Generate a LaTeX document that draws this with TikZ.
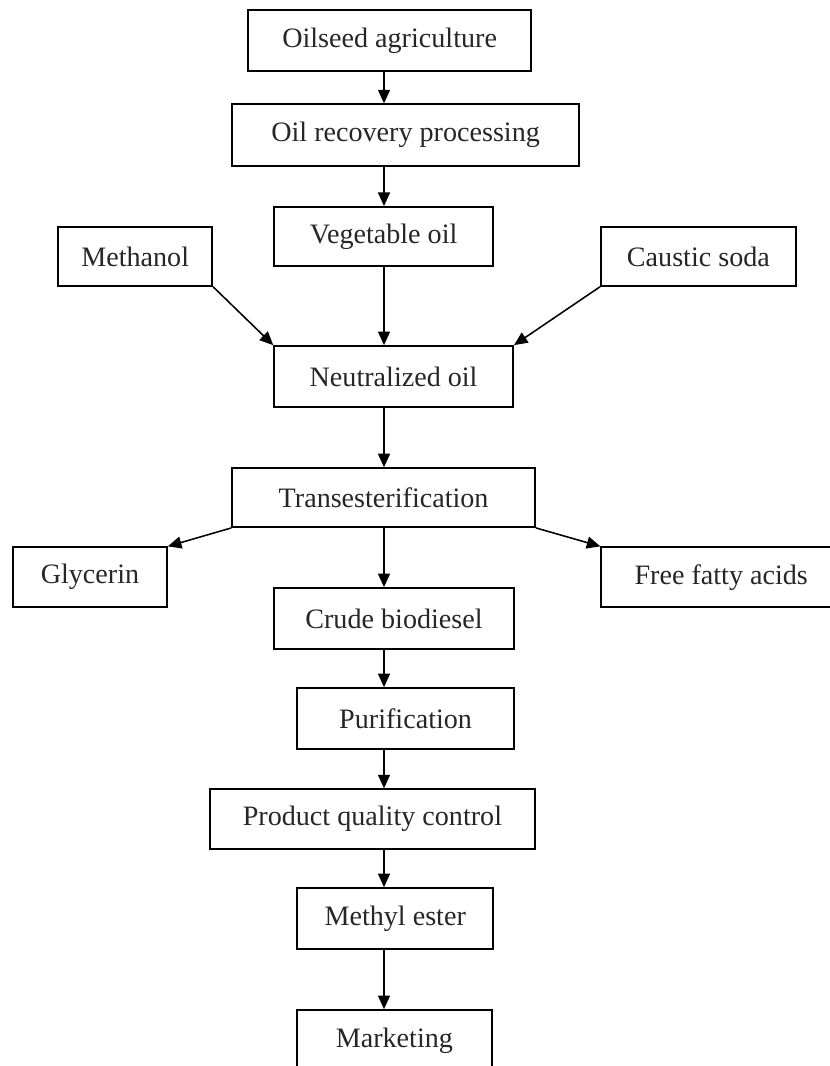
\documentclass[tikz,border=0pt]{standalone}
\usepackage{fontspec}
\setmainfont{Liberation Serif}
\usetikzlibrary{arrows.meta}
\tikzset{
  blk/.style = {draw, line width=1.2pt, align=center, inner sep=0pt,
                minimum height=1.52cm, text=black!85},
  ar/.style  = {-{Triangle[length=3.4mm, width=3mm]}, line width=1.1pt},
}

\begin{document}
\begin{tikzpicture}[font=\fontsize{20}{24}\selectfont]
\useasboundingbox (0,0) rectangle (20.725,-26.65);

% --- main line ---
\coordinate (spine) at (9.6,0);
\node[blk, minimum width=7.075cm] (agri) at (9.74,-1.01) {Oilseed agriculture};
\node[blk, minimum width=8.675cm, minimum height=1.55cm] (recov) at (10.14,-3.38) {Oil recovery processing};
\node[blk, minimum width=5.475cm, minimum height=1.475cm] (veg) at (9.59,-5.91) {Vegetable oil};
\node[blk, minimum width=5.975cm] (neut) at (9.84,-9.41) {Neutralized oil};
\node[blk, minimum width=7.575cm, minimum height=1.475cm] (trans) at (9.59,-12.44) {Transesterification};
\node[blk, minimum width=6cm] (crude) at (9.85,-15.46) {Crude biodiesel};
\node[blk, minimum width=5.425cm] (purif) at (10.14,-17.96) {Purification};
\node[blk, minimum width=8.125cm, minimum height=1.5cm] (pqc) at (9.31,-20.48) {Product quality control};
\node[blk, minimum width=4.9cm] (ester) at (9.88,-22.96) {Methyl ester};
\node[blk, minimum width=4.875cm] (market) at (9.86,-26.01) {Marketing};

% --- side inputs and outputs ---
\node[blk, minimum width=3.85cm, minimum height=1.475cm] (meth) at (3.38,-6.41) {Methanol};
\node[blk, minimum width=4.875cm, minimum height=1.475cm] (soda) at (17.46,-6.41) {Caustic soda};
\node[blk, minimum width=3.85cm, minimum height=1.5cm] (glyc) at (2.25,-14.43) {Glycerin};
\node[blk, minimum width=6cm, minimum height=1.5cm] (ffa) at (18.03,-14.43) {Free fatty acids};

\draw[ar] (agri.south -| spine) -- (recov.north -| spine);
\draw[ar] (recov.south -| spine) -- (veg.north -| spine);
\draw[ar] (veg.south -| spine) -- (neut.north -| spine);
\draw[ar] (neut.south -| spine) -- (trans.north -| spine);
\draw[ar] (trans.south -| spine) -- (crude.north -| spine);
\draw[ar] (crude.south -| spine) -- (purif.north -| spine);
\draw[ar] (purif.south -| spine) -- (pqc.north -| spine);
\draw[ar] (pqc.south -| spine) -- (ester.north -| spine);
\draw[ar] (ester.south -| spine) -- (market.north -| spine);

\draw[ar] (meth.south east) -- (neut.north west);
\draw[ar] (soda.south west) -- (neut.north east);
\draw[ar] (trans.south west) -- (glyc.north east);
\draw[ar] (trans.south east) -- (ffa.north west);
\end{tikzpicture}
\end{document}
